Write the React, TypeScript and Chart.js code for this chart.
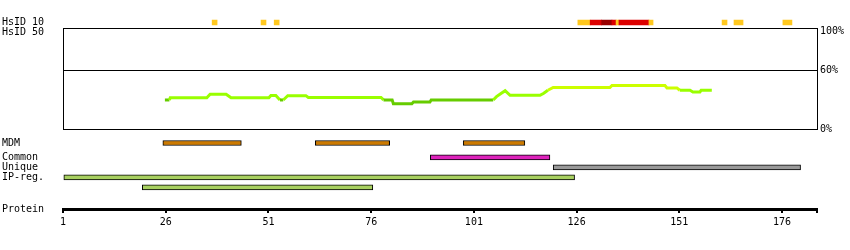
import React, { useEffect, useRef } from "react";
import { Chart, registerables } from "chart.js";

Chart.register(...registerables);

// ---------- data ----------
const axisMin = 1;
const axisMax = 184.5;
const axisTicks = [1, 26, 51, 76, 101, 126, 151, 176];

const identityTicks = [0, 60, 100];

// HsID 10 conservation cells (residue ranges) and level (1 = yellow, 2 = red, 3 = dark red)
const hsid10Start = [37.3, 49.2, 52.4, 126.3, 129.3, 132.1, 134.6, 135.6, 136.3, 143.6, 161.4, 164.3, 176.2];
const hsid10End = [38.5, 50.4, 53.6, 129.3, 132.1, 134.6, 135.6, 136.3, 143.6, 144.6, 162.6, 166.5, 178.4];
const hsid10Level = [1, 1, 1, 1, 2, 3, 2, 1, 2, 1, 1, 1, 1];

// identity profile (residue, %)
const lineResidue = [25.8, 26.9, 27.1, 36, 36.8, 40.7, 41.9, 51.1, 51.6, 52.8, 53.8, 54.6, 55.7, 60.1, 60.7, 78.4, 79, 81.1, 81.4, 85.9, 86.3, 90.3, 90.6, 105.7, 106.5, 107.5, 108.6, 109.8, 117.1, 118, 119, 120.3, 134.1, 134.6, 147.5, 148, 150.4, 151.1, 153.6, 154.3, 156, 156.3, 158.9];
const lineValue = [29.6, 29.6, 31.9, 31.9, 35.5, 35.5, 31.9, 31.9, 34.2, 34.2, 29.6, 29.6, 34.0, 34.0, 32.1, 32.1, 29.7, 29.7, 25.8, 25.8, 27.6, 27.6, 29.6, 29.6, 33, 36, 39.1, 34.3, 34.3, 36.5, 39.5, 42.3, 42.3, 44.4, 44.4, 41.9, 41.9, 39.5, 39.5, 37.8, 37.8, 39.5, 39.5];

// features
const mdmStart = [25.3, 62.4, 98.4];
const mdmEnd = [44.4, 80.5, 113.4];
const commonStart = [90.4];
const commonEnd = [119.5];
const uniqueStart = [120.3];
const uniqueEnd = [180.5];
const ipRegStart = [1.2, 20.3];
const ipRegEnd = [125.5, 76.4];
const ipRegLane = [0, 1];

const hsidRows = ["HsID 10", "HsID 50"];
const mdmRows = ["MDM"];
const featureRows = ["Common", "Unique", "IP-reg.", " "];
const proteinRows = ["", "Protein"];

// ---------- style ----------
const W = 850;
const H = 250;
const LABEL_X = 2;
const PLOT_LEFT = 63;
const PLOT_RIGHT = 817;
const FONT = { family: "'DejaVu Sans Mono', monospace", size: 10 };
const levelColors: Record<number, string> = { 1: "#ffc81e", 2: "#dd0000", 3: "#990000" };

function lineColor(v: number) {
  if (v < 30) return "#66cc00";
  if (v < 40) return "#99ff00";
  return "#ccff00";
}

const xHidden = { type: "linear", min: axisMin, max: axisMax, display: false };

function leftLabels(labels: string[], extra: any = {}) {
  return {
    type: "category",
    labels,
    position: "left",
    grid: { display: false },
    border: { display: false },
    ticks: { font: FONT, color: "#000", crossAlign: "far", padding: 0, autoSkip: false },
    afterFit: (s: any) => {
      s.width = PLOT_LEFT - LABEL_X;
    },
    ...extra,
  };
}

function pad(top: number, bottom: number) {
  return { left: LABEL_X, right: W - PLOT_RIGHT, top, bottom: H - bottom };
}

const frame = {
  id: "frame",
  beforeDatasetsDraw(chart: any) {
    const { left, top, right, bottom } = chart.chartArea;
    const ctx = chart.ctx;
    ctx.save();
    ctx.strokeStyle = "#000";
    ctx.lineWidth = 1;
    const l = Math.round(left) + 0.5;
    const t = Math.round(top) + 0.5;
    ctx.strokeRect(l, t, Math.round(right) - Math.round(left), Math.round(bottom) - Math.round(top));
    ctx.restore();
  },
};

const base = {
  animation: false,
  responsive: false,
  devicePixelRatio: 1,
  events: [],
  plugins: { legend: { display: false }, tooltip: { enabled: false }, title: { display: false } },
};

function ranges(starts: number[], ends: number[], row: (i: number) => string) {
  return starts.map((s, i) => ({ x: [s, ends[i]], y: row(i) }));
}

export default function App() {
  const r1 = useRef<HTMLCanvasElement>(null);
  const r2 = useRef<HTMLCanvasElement>(null);
  const r3 = useRef<HTMLCanvasElement>(null);
  const r4 = useRef<HTMLCanvasElement>(null);
  const r5 = useRef<HTMLCanvasElement>(null);

  useEffect(() => {
    Chart.defaults.font.family = FONT.family;
    Chart.defaults.font.size = FONT.size;
    Chart.defaults.color = "#000";
    const charts: Chart[] = [];

    // main identity plot
    charts.push(
      new Chart(r1.current!, {
        type: "line",
        data: {
          datasets: [
            {
              data: lineResidue.map((x, i) => ({ x, y: lineValue[i] })),
              borderWidth: 3,
              pointRadius: 0,
              tension: 0,
              segment: {
                borderColor: (ctx: any) => lineColor((ctx.p0.parsed.y + ctx.p1.parsed.y) / 2),
              },
            } as any,
          ],
        },
        options: {
          ...base,
          layout: { padding: { left: PLOT_LEFT, right: 0, top: 28, bottom: H - 129 } },
          scales: {
            x: xHidden,
            y: {
              type: "linear",
              position: "right",
              min: 0,
              max: 103,
              afterBuildTicks: (s: any) => {
                s.ticks = identityTicks.map((v) => ({ value: v }));
              },
              afterFit: (s: any) => {
                s.width = W - PLOT_RIGHT;
              },
              ticks: { font: FONT, color: "#000", padding: 3, callback: (v: any) => v + "%" },
              grid: {
                drawTicks: false,
                lineWidth: 1,
                color: (ctx: any) => (ctx.tick && ctx.tick.value === 60 ? "#000" : "rgba(0,0,0,0)"),
              },
              border: { display: false },
            },
          },
        } as any,
        plugins: [frame],
      })
    );

    // HsID track
    charts.push(
      new Chart(r2.current!, {
        type: "bar",
        data: {
          labels: hsidRows,
          datasets: [
            {
              data: ranges(hsid10Start, hsid10End, () => hsidRows[0]) as any,
              backgroundColor: hsid10Level.map((l) => levelColors[l]),
              borderWidth: 0,
              barThickness: 5,
              grouped: false,
            } as any,
          ],
        },
        options: {
          ...base,
          indexAxis: "y",
          layout: { padding: pad(17.5, 37.5) },
          scales: { x: xHidden, y: leftLabels(hsidRows) },
        } as any,
      })
    );

    // MDM
    charts.push(
      new Chart(r3.current!, {
        type: "bar",
        data: {
          labels: mdmRows,
          datasets: [
            {
              data: ranges(mdmStart, mdmEnd, () => mdmRows[0]) as any,
              backgroundColor: "#cc7a00",
              borderColor: "#000",
              borderWidth: 1,
              borderSkipped: false,
              barThickness: 5,
              grouped: false,
            } as any,
          ],
        },
        options: {
          ...base,
          indexAxis: "y",
          layout: { padding: pad(138, 148) },
          scales: { x: xHidden, y: leftLabels(mdmRows) },
        } as any,
      })
    );

    // Common / Unique / IP-reg.
    const barStyle = { borderColor: "#000", borderWidth: 1, borderSkipped: false, barThickness: 5, grouped: false };
    charts.push(
      new Chart(r4.current!, {
        type: "bar",
        data: {
          labels: featureRows,
          datasets: [
            { data: ranges(commonStart, commonEnd, () => featureRows[0]), backgroundColor: "#dd22bb", ...barStyle } as any,
            { data: ranges(uniqueStart, uniqueEnd, () => featureRows[1]), backgroundColor: "#999999", ...barStyle } as any,
            {
              data: ranges(ipRegStart, ipRegEnd, (i) => featureRows[2 + ipRegLane[i]]),
              backgroundColor: "#a8d060",
              ...barStyle,
            } as any,
          ],
        },
        options: {
          ...base,
          indexAxis: "y",
          layout: { padding: pad(152.3, 192.3) },
          scales: { x: xHidden, y: leftLabels(featureRows) },
        } as any,
      })
    );

    // protein axis
    charts.push(
      new Chart(r5.current!, {
        type: "line",
        data: { labels: proteinRows, datasets: [] },
        options: {
          ...base,
          layout: { padding: { left: LABEL_X, right: W - PLOT_RIGHT, top: 199, bottom: 11 } },
          scales: {
            x: {
              type: "linear",
              position: "bottom",
              min: axisMin,
              max: axisMax,
              afterBuildTicks: (s: any) => {
                s.ticks = [...axisTicks, axisMax].map((v) => ({ value: v }));
              },
              afterFit: (s: any) => {
                s.height = 30;
              },
              ticks: {
                font: FONT,
                color: "#000",
                padding: 3,
                autoSkip: false,
                maxRotation: 0,
                callback: (v: any) => (axisTicks.includes(v) ? String(v) : ""),
              },
              grid: { drawOnChartArea: false, drawTicks: true, tickLength: 4, lineWidth: 2, color: "#000" },
              border: { display: true, width: 3, color: "#000" },
            },
            y: leftLabels(proteinRows, { offset: false }),
          },
        } as any,
      })
    );

    return () => charts.forEach((c) => c.destroy());
  }, []);

  const cv: React.CSSProperties = { position: "absolute", left: 0, top: 0, width: W, height: H };
  return (
    <div style={{ position: "absolute", left: 0, top: 0, width: W, height: H, background: "#fff" }}>
      <canvas ref={r1} width={W} height={H} style={cv} />
      <canvas ref={r2} width={W} height={H} style={cv} />
      <canvas ref={r3} width={W} height={H} style={cv} />
      <canvas ref={r4} width={W} height={H} style={cv} />
      <canvas ref={r5} width={W} height={H} style={cv} />
    </div>
  );
}
